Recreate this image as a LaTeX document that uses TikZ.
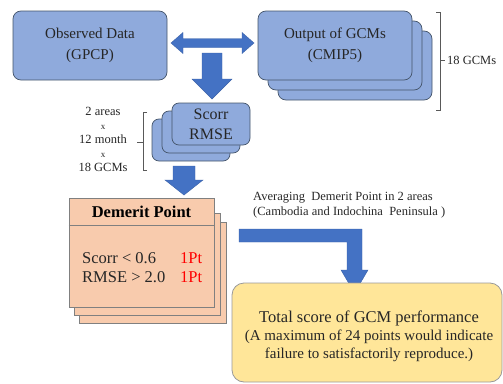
\documentclass[tikz,border=0pt]{standalone}
\usepackage{fontspec}
\setmainfont{Liberation Serif}
\usetikzlibrary{positioning,calc}

\definecolor{boxblue}{HTML}{8FAADC}
\definecolor{boxedge}{HTML}{44546A}
\definecolor{arrowblue}{HTML}{4472C4}
\definecolor{peach}{HTML}{F8CBAD}
\definecolor{gold}{HTML}{FFE699}
\definecolor{textgray}{HTML}{262626}

\begin{document}
\begin{tikzpicture}[
        x=1pt, y=-1pt, % one unit is one pixel of the layout, y grows downwards
        % Rounded blue boxes for the data sets
        blue_box/.style={rectangle,rounded corners=8pt,draw=boxedge,fill=boxblue,line width=0.7pt,
            align=center,text=textgray,inner sep=0pt,font=\fontsize{15}{21}\selectfont},
        % Flat boxes for the demerit table
        peach_box/.style={rectangle,draw=gray,fill=peach,line width=0.7pt,inner sep=0pt},
        % Rounded box for the final score
        gold_box/.style={rectangle,rounded corners=12pt,draw=gray!80,fill=gold,line width=0.8pt,inner sep=0pt},
        % Wide block arrows
        block_arrow/.style={fill=arrowblue,draw=arrowblue!85!black,line width=0.4pt,line join=miter},
        % Thin brackets round the stacks
        bracket/.style={draw=gray!70!black,line width=0.6pt},
        small_text/.style={text=textgray,inner sep=0pt,font=\fontsize{12.5}{14}\selectfont}
    ]

    % Fix the page size
    \useasboundingbox (0,0) rectangle (503,383);

    % Observed data box
    \node[blue_box,minimum width=154pt,minimum height=69pt] (observed) at (90,45.5) {Observed Data\\(GPCP)};

    % Stack of GCM boxes, drawn from back to front
    \foreach \k in {2,1}
        \node[blue_box,minimum width=154pt,minimum height=69pt] (gcm\k) at (335+10*\k,45.5+10*\k) {};
    \node[blue_box,minimum width=154pt,minimum height=69pt] (gcm) at (335,45.5) {Output of GCMs\\(CMIP5)};

    % Bracket with the number of models
    \draw[bracket] (436,12) -- (440,12) -- (440,110) -- (436,110);
    \draw[bracket] (440,60) -- (445,60);
    \node[small_text,anchor=west] (gcm_count) at (447,60) {18 GCMs};

    % Double arrow between observation and models
    \fill[block_arrow] (171,43) -- (183,32.5) -- (183,38.5) -- (242,38.5) -- (242,32.5) -- (254,43)
        -- (242,53.5) -- (242,47.5) -- (183,47.5) -- (183,53.5) -- cycle;

    % Arrow down to the scores
    \fill[block_arrow] (202,53) -- (222,53) -- (222,79) -- (232,79) -- (212,99) -- (192,79) -- (202,79) -- cycle;

    % Stack of score boxes, shifted down and to the left
    \foreach \k in {2,1}
        \node[blue_box,rounded corners=7pt,minimum width=78pt,minimum height=42pt] (score\k) at (211-10*\k,124+8*\k) {};
    \node[blue_box,rounded corners=7pt,minimum width=78pt,minimum height=42pt,
        font=\fontsize{16}{20}\selectfont] (score) at (211,124) {Scorr\\RMSE};

    % Counts beside the score stack
    \node[small_text,align=center] (counts) at (103,139.5)
        {2 areas\\{\fontsize{9}{14}\selectfont x}\\12 month\\{\fontsize{9}{14}\selectfont x}\\18 GCMs};
    \draw[bracket] (147,112) -- (143,112) -- (143,170) -- (147,170);
    \draw[bracket] (143,142) -- (137,142);

    % Arrow down to the demerit table
    \fill[block_arrow] (173,166) -- (195,166) -- (195,180) -- (203,180) -- (184,195) -- (165,180) -- (173,180) -- cycle;

    % Demerit table, two sheets behind the front one
    \draw[peach_box] (79,222) rectangle (226,323);
    \draw[peach_box] (74,213) rectangle (220,315);
    \node[peach_box,minimum width=145pt,minimum height=109pt] (demerit) at (141.5,252.5) {};
    \draw[gray,line width=0.7pt] (demerit.west |- 0,225) -- (demerit.east |- 0,225);
    \node[text=black,font=\fontsize{16.5}{18}\selectfont\bfseries] (demerit_title) at (141.5,212) {Demerit Point};

    % Rules of the table
    \node[text=textgray,anchor=west,inner sep=0pt,font=\fontsize{16.5}{18}\selectfont] (scorr_rule) at (82,258) {Scorr < 0.6};
    \node[text=textgray,anchor=west,inner sep=0pt,font=\fontsize{16.5}{18}\selectfont] (rmse_rule) at (82,277) {RMSE > 2.0};
    \node[text=red,anchor=west,inner sep=0pt,font=\fontsize{16.5}{18}\selectfont] (scorr_pt) at (180,258) {1Pt};
    \node[text=red,anchor=west,inner sep=0pt,font=\fontsize{16.5}{18}\selectfont] (rmse_pt) at (180,277) {1Pt};

    % Note on the averaging
    \node[small_text,align=left,anchor=west,font=\fontsize{12.5}{15}\selectfont] (averaging) at (253,205.5)
        {Averaging\ \ Demerit Point in 2 areas\\(Cambodia and Indochina\ \ Peninsula )};

    % Bent arrow to the final score
    \fill[block_arrow] (239,229) -- (362,229) -- (362,270) -- (368,270) -- (354.5,293) -- (341,270)
        -- (347,270) -- (347,242) -- (239,242) -- cycle;

    % Final score box
    \node[gold_box,minimum width=270pt,minimum height=99pt] (total) at (367,332.5) {};
    \node[align=center,text=textgray,inner sep=0pt,font=\fontsize{15}{18}\selectfont] (total_text)
        at ([xshift=2pt,yshift=-3.5pt]total.center)
        {{\fontsize{16.5}{19}\selectfont Total score of GCM performance}\\(A maximum of 24 points would indicate\\failure to satisfactorily reproduce.)};

\end{tikzpicture}
\end{document}
